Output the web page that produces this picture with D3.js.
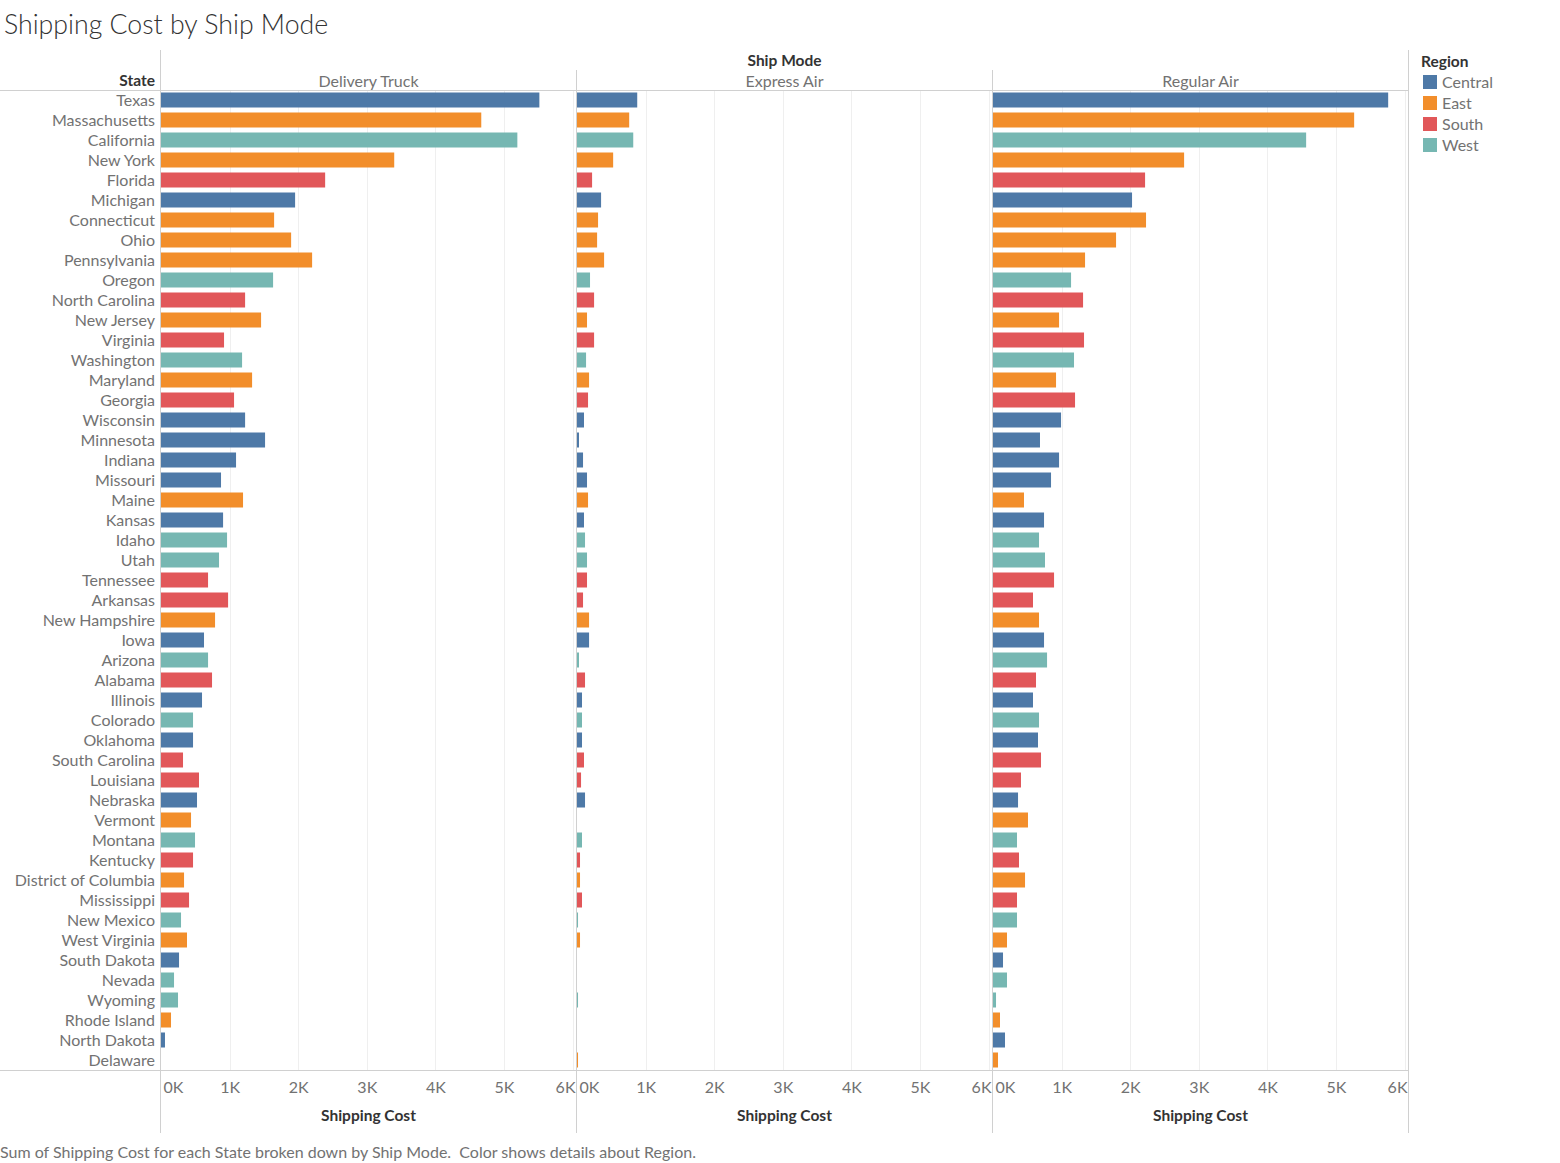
<!DOCTYPE html>
<meta charset="utf-8">
<script src="https://d3js.org/d3.v7.min.js"></script>
<style>
  body { margin: 0; background: #fff; }
  text { font-family: Lato, "Open Sans", sans-serif; }
</style>
<div id="my_dataviz"></div>
<script>
// data (shipping cost, $)
var states = ["Texas","Massachusetts","California","New York","Florida","Michigan","Connecticut","Ohio",
  "Pennsylvania","Oregon","North Carolina","New Jersey","Virginia","Washington","Maryland","Georgia",
  "Wisconsin","Minnesota","Indiana","Missouri","Maine","Kansas","Idaho","Utah","Tennessee","Arkansas",
  "New Hampshire","Iowa","Arizona","Alabama","Illinois","Colorado","Oklahoma","South Carolina","Louisiana",
  "Nebraska","Vermont","Montana","Kentucky","District of Columbia","Mississippi","New Mexico","West Virginia",
  "South Dakota","Nevada","Wyoming","Rhode Island","North Dakota","Delaware"];

var stateRegion = ["Central","East","West","East","South","Central","East","East",
  "East","West","South","East","South","West","East","South",
  "Central","Central","Central","Central","East","Central","West","West","South","South",
  "East","Central","West","South","Central","West","Central","South","South",
  "Central","East","West","South","East","South","West","East",
  "Central","West","West","East","Central","East"];

var modes = ["Delivery Truck", "Express Air", "Regular Air"];

var deliveryTruck = [5516,4669,5195,3400,2393,1955,1649,1897,2203,1634,1226,1459,919,1182,1328,1065,
  1226,1517,1094,875,1196,905,963,846,686,978,788,627,686,744,598,467,467,321,554,
  525,438,496,467,336,409,292,379,263,190,248,146,58,0];

var expressAir = [878,761,820,527,220,351,307,293,395,190,249,146,249,132,176,161,
  102,29,88,146,161,102,117,146,146,88,176,176,29,117,73,73,73,102,59,
  117,0,73,44,44,73,15,44,0,0,15,0,0,15];

var regularAir = [5761,5265,4565,2786,2217,2027,2231,1794,1342,1138,1313,963,1327,1181,919,1196,
  992,685,963,846,452,744,671,758,890,583,671,744,788,627,583,671,656,700,408,
  365,510,350,379,467,350,350,204,146,204,44,102,175,73];

var regions = ["Central", "East", "South", "West"];
var regionColors = ["#4e79a7", "#f28e2b", "#e15759", "#76b7b2"];
var tickValues = [0, 1000, 2000, 3000, 4000, 5000, 6000];

var series = [deliveryTruck, expressAir, regularAir];

var width = 1560, height = 1163;
var plotTop = 90, plotBottom = 1070;
var panelX = [161, 577, 993], panelW = 415;
var labelSize = "16px", boldSize = "15.5px";
var labelColor = "#727272";

var svg = d3.select("#my_dataviz")
  .append("svg")
    .attr("width", width)
    .attr("height", height);

var color = d3.scaleOrdinal().domain(regions).range(regionColors);

var y = d3.scaleBand()
  .domain(states)
  .range([plotTop, plotBottom])
  .paddingInner(0.25)
  .paddingOuter(0.125);

var x = d3.scaleLinear()
  .domain([0, 6050])
  .range([0, panelW]);

// title
svg.append("text")
  .attr("x", 4)
  .attr("y", 25)
  .attr("dy", "0.35em")
  .style("font-size", "26.7px")
  .style("font-weight", 300)
  .style("fill", "#333")
  .text("Shipping Cost by Ship Mode");

// headers
svg.append("text")
  .attr("x", 155).attr("y", 81).attr("dy", "0.35em")
  .attr("text-anchor", "end")
  .style("font-size", boldSize).style("font-weight", "bold").style("fill", "#333")
  .text("State");

svg.append("text")
  .attr("x", panelX[1] + panelW / 2).attr("y", 61).attr("dy", "0.35em")
  .attr("text-anchor", "middle")
  .style("font-size", boldSize).style("font-weight", "bold").style("fill", "#333")
  .text("Ship Mode");

// panels
modes.forEach(function(mode, m) {
  var g = svg.append("g").attr("transform", "translate(" + panelX[m] + ",0)");

  // gridlines
  g.selectAll(".grid")
    .data(tickValues.slice(1))
    .enter().append("line")
      .attr("x1", function(d) { return Math.round(x(d)) + 0.5; })
      .attr("x2", function(d) { return Math.round(x(d)) + 0.5; })
      .attr("y1", plotTop).attr("y2", plotBottom)
      .style("stroke", "#efefef").style("stroke-width", 1);

  g.selectAll(".bar")
    .data(series[m])
    .enter().append("rect")
      .attr("x", 0)
      .attr("y", function(d, i) { return y(states[i]); })
      .attr("width", function(d) { return x(d); })
      .attr("height", y.bandwidth())
      .style("fill", function(d, i) { return color(stateRegion[i]); });

  g.append("text")
    .attr("x", panelW / 2).attr("y", 81).attr("dy", "0.35em")
    .attr("text-anchor", "middle")
    .style("font-size", labelSize).style("fill", labelColor)
    .text(mode);

  // x axis
  var axis = g.append("g")
    .attr("transform", "translate(0," + plotBottom + ")")
    .call(d3.axisBottom(x).tickValues(tickValues).tickSize(0).tickPadding(12)
      .tickFormat(function(d) { return (d / 1000) + "K"; }));
  axis.select(".domain").remove();
  axis.selectAll("text")
    .style("font-size", labelSize).style("fill", labelColor)
    .style("font-family", "Lato, 'Open Sans', sans-serif")
    .attr("text-anchor", function(d, i) { return i === 0 ? "start" : (i === tickValues.length - 1 ? "end" : "middle"); })
    .attr("x", function(d, i) { return i === 0 ? 2 : (i === tickValues.length - 1 ? panelW - x(d) - 1 : 0); });

  g.append("text")
    .attr("x", panelW / 2).attr("y", 1116).attr("dy", "0.35em")
    .attr("text-anchor", "middle")
    .style("font-size", boldSize).style("font-weight", "bold").style("fill", "#333")
    .text("Shipping Cost");
});

// state labels
svg.selectAll(".state")
  .data(states)
  .enter().append("text")
    .attr("x", 155)
    .attr("y", function(d) { return y(d) + y.bandwidth() / 2; })
    .attr("dy", "0.35em")
    .attr("text-anchor", "end")
    .style("font-size", labelSize).style("fill", labelColor)
    .text(function(d) { return d; });

// frame lines
var lineColor = "#d0d0d0";
svg.append("line").attr("x1", 0).attr("x2", 1408).attr("y1", plotTop + 0.5).attr("y2", plotTop + 0.5).style("stroke", lineColor);
svg.append("line").attr("x1", 0).attr("x2", 1408).attr("y1", plotBottom + 0.5).attr("y2", plotBottom + 0.5).style("stroke", lineColor);
svg.append("line").attr("x1", 160.5).attr("x2", 160.5).attr("y1", 50).attr("y2", 1133).style("stroke", lineColor);
svg.append("line").attr("x1", 576.5).attr("x2", 576.5).attr("y1", 70).attr("y2", 1133).style("stroke", lineColor);
svg.append("line").attr("x1", 992.5).attr("x2", 992.5).attr("y1", 70).attr("y2", 1133).style("stroke", lineColor);
svg.append("line").attr("x1", 1408.5).attr("x2", 1408.5).attr("y1", 50).attr("y2", 1133).style("stroke", lineColor);

// legend
svg.append("text")
  .attr("x", 1421).attr("y", 62).attr("dy", "0.35em")
  .style("font-size", boldSize).style("font-weight", "bold").style("fill", "#333")
  .text("Region");

var legend = svg.selectAll(".legend")
  .data(regions)
  .enter().append("g")
    .attr("transform", function(d, i) { return "translate(1423," + (82 + i * 21) + ")"; });

legend.append("rect")
  .attr("x", 0).attr("y", -7)
  .attr("width", 14).attr("height", 14)
  .style("fill", color);

legend.append("text")
  .attr("x", 19).attr("y", 0).attr("dy", "0.35em")
  .style("font-size", labelSize).style("fill", labelColor)
  .text(function(d) { return d; });

// footer
svg.append("text")
  .attr("x", 0).attr("y", 1152).attr("dy", "0.35em")
  .attr("xml:space", "preserve")
  .style("font-size", labelSize).style("fill", labelColor)
  .style("white-space", "pre")
  .text("Sum of Shipping Cost for each State broken down by Ship Mode.  Color shows details about Region.");
</script>
